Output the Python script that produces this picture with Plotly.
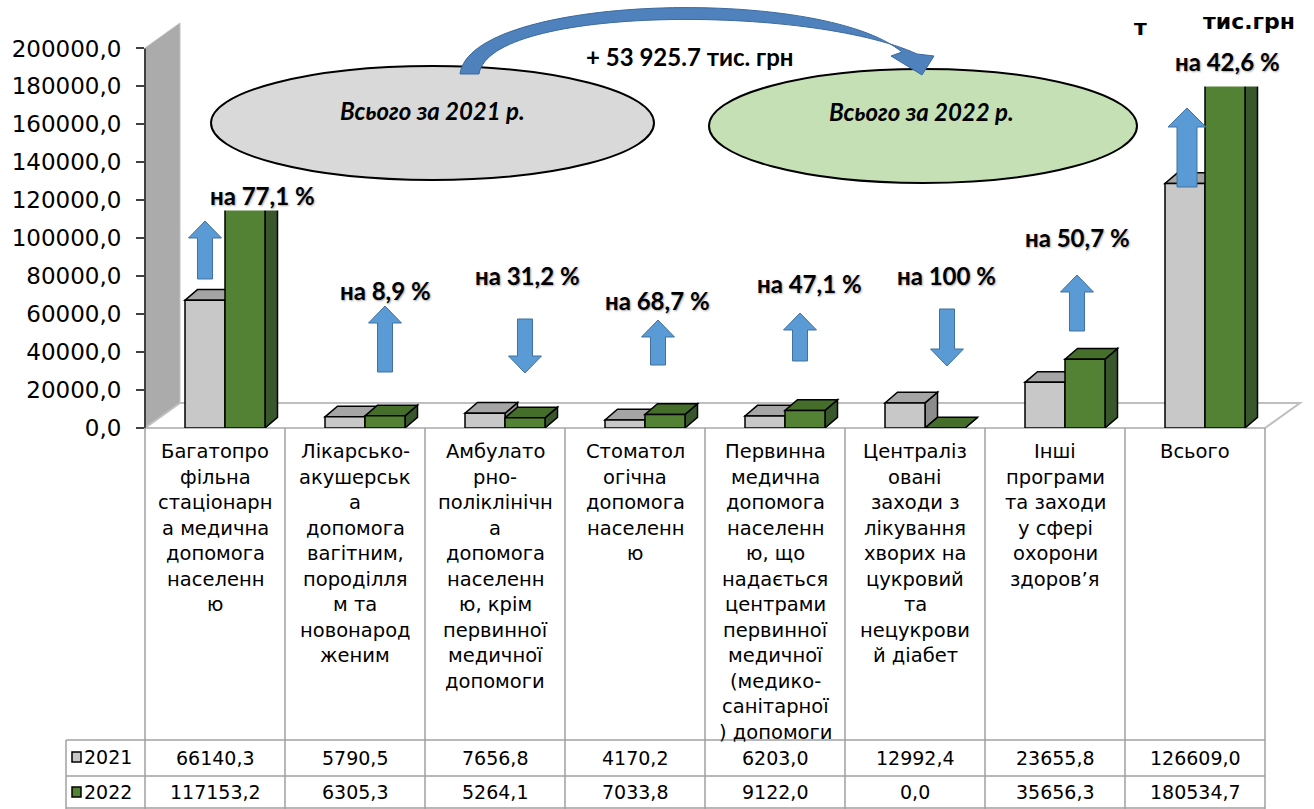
import plotly.graph_objects as go

# ---- data -------------------------------------------------------------
categories = [
    "Багатопро\nфільна\nстаціонарн\nа медична\nдопомога\nнаселенн\nю",
    "Лікарсько-\nакушерськ\nа\nдопомога\nвагітним,\nпороділля\nм та\nновонарод\nженим",
    "Амбулато\nрно-\nполіклінічн\nа\nдопомога\nнаселенн\nю, крім\nпервинної\nмедичної\nдопомоги",
    "Стоматол\nогічна\nдопомога\nнаселенн\nю",
    "Первинна\nмедична\nдопомога\nнаселенн\nю, що\nнадається\nцентрами\nпервинної\nмедичної\n(медико-\nсанітарної\n) допомоги",
    "Централіз\nовані\nзаходи з\nлікування\nхворих на\nцукровий\nта\nнецукрови\nй діабет",
    "Інші\nпрограми\nта заходи\nу сфері\nохорони\nздоров’я",
    "Всього",
]
years = ["2021", "2022"]
values_2021 = [66140.3, 5790.5, 7656.8, 4170.2, 6203.0, 12992.4, 23655.8, 126609.0]
values_2022 = [117153.2, 6305.3, 5264.1, 7033.8, 9122.0, 0.0, 35656.3, 180534.7]
change_labels = ["на 77,1 %", "на 8,9 %", "на 31,2 %", "на 68,7 %",
                 "на 47,1 %", "на 100 %", "на 50,7 %", "на 42,6 %"]
total_label_2021 = "Всього за 2021 р."
total_label_2022 = "Всього за 2022 р."
total_change = "+ 53 925.7 тис. грн"
unit_label = "тис.грн"
y_ticks = list(range(0, 200001, 20000))

# ---- geometry ---------------------------------------------------------
W, H = 1314, 809
L, R, T, B = 145, 14, 20, 381
X_MIN, X_MAX = -0.5, 7.75
Y_MAX = 215000
PLOT_W = W - L - R
PLOT_H = H - T - B
CAT_PX = PLOT_W / (X_MAX - X_MIN)
BASE_LIFT = 7  # bars stand a little behind the floor's front edge


def fx(px):
    return (px - L) / PLOT_W


def fy(py):
    return (H - B - py) / PLOT_H


def cat_px(xv):
    return L + (xv - X_MIN) * CAT_PX


def to_path(pts, close=True):
    s = "M " + " L ".join(f"{a:.5f},{b:.5f}" for a, b in pts)
    return s + (" Z" if close else "")


def fmt(v):
    return f"{v:.1f}".replace(".", ",")


GRAY, GRAY_TOP, GRAY_SIDE = "#C8C8C8", "#A5A5A5", "#8C8C8C"
GREEN, GREEN_TOP, GREEN_SIDE = "#548235", "#456E2B", "#38572A"
BLUE, BLUE_EDGE = "#5B9BD5", "#41719C"

bar_w = 40 / CAT_PX
off_2021 = -30 / CAT_PX
off_2022 = 10 / CAT_PX
DX = 12.5 / CAT_PX
DY = 10.5 * Y_MAX / PLOT_H

xs = list(range(len(categories)))

fig = go.Figure()
fig.add_trace(go.Bar(
    x=xs, y=values_2021, name=years[0], offset=off_2021, width=bar_w,
    marker=dict(color=GRAY, line=dict(color="black", width=1.5)),
    yaxis="y2", showlegend=False, hoverinfo="skip",
))
fig.add_trace(go.Bar(
    x=xs, y=values_2022, name=years[1], offset=off_2022, width=bar_w,
    marker=dict(color=GREEN, line=dict(color="black", width=1.5)),
    yaxis="y2", showlegend=False, hoverinfo="skip",
))

shapes = []
# back wall and floor
wall = [(145, 428), (145, 48), (180, 23), (180, 403)]
shapes.append(dict(type="path", xref="paper", yref="paper", layer="below",
                   path=to_path([(fx(a), fy(b)) for a, b in wall]),
                   fillcolor="#ABABAB", line=dict(color="#BFBFBF", width=1)))
floor = [(145, 428), (cat_px(7.5), 428), (cat_px(7.5) + 35, 403), (180, 403)]
shapes.append(dict(type="path", xref="paper", yref="paper", layer="below",
                   path=to_path([(fx(a), fy(b)) for a, b in floor]),
                   fillcolor="white", line=dict(color="#BFBFBF", width=2)))

# 3D top and side faces of the bars
for i in xs:
    for vals, off, top_c, side_c in ((values_2021, off_2021, GRAY_TOP, GRAY_SIDE),
                                     (values_2022, off_2022, GREEN_TOP, GREEN_SIDE)):
        h = vals[i]
        x0, x1 = i + off, i + off + bar_w
        side = [(x1, 0), (x1, h), (x1 + DX, h + DY), (x1 + DX, DY)]
        top = [(x0, h), (x1, h), (x1 + DX, h + DY), (x0 + DX, h + DY)]
        for pts, col in ((side, side_c), (top, top_c)):
            shapes.append(dict(type="path", xref="x", yref="y2", layer="below",
                               path=to_path(pts), fillcolor=col,
                               line=dict(color="black", width=1.5)))

# value axis line
shapes.append(dict(type="line", xref="paper", yref="y", x0=0, x1=0,
                   y0=0, y1=y_ticks[-1], line=dict(color="#404040", width=2)))

# data table grid
TABLE_LINE = dict(color="#A0A0A0", width=1.5)
for k in range(len(categories) + 1):
    xp = fx(cat_px(k - 0.5))
    shapes.append(dict(type="line", xref="paper", yref="paper",
                       x0=xp, x1=xp, y0=fy(428), y1=fy(809), line=TABLE_LINE))
for yy in (740, 776, 808):
    shapes.append(dict(type="line", xref="paper", yref="paper",
                       x0=fx(66), x1=fx(cat_px(7.5)), y0=fy(yy), y1=fy(yy),
                       line=TABLE_LINE))
shapes.append(dict(type="line", xref="paper", yref="paper",
                   x0=fx(66), x1=fx(66), y0=fy(740), y1=fy(809), line=TABLE_LINE))

# legend keys inside the table
for yy, col in ((757, GRAY), (792, GREEN)):
    shapes.append(dict(type="rect", xref="paper", yref="paper",
                       x0=fx(72), x1=fx(81), y0=fy(yy - 5), y1=fy(yy + 5),
                       fillcolor=col, line=dict(color="black", width=1.5)))

# total ellipses
shapes.append(dict(type="circle", xref="paper", yref="paper",
                   x0=fx(211), x1=fx(654), y0=fy(180), y1=fy(66),
                   fillcolor="#D9D9D9", line=dict(color="black", width=2)))
shapes.append(dict(type="circle", xref="paper", yref="paper",
                   x0=fx(709), x1=fx(1137), y0=fy(183), y1=fy(69),
                   fillcolor="#C5E0B4", line=dict(color="black", width=2)))


# curved arrow between the two totals
def P(a, b):
    return f"{fx(a):.5f},{fy(b):.5f}"


curve = (f"M {P(460, 74)} C {P(470, -5)} {P(820, -15)} {P(902, 52)} "
         f"L {P(891, 56)} L {P(922, 75)} L {P(934, 56)} L {P(917, 54)} "
         f"C {P(810, 5)} {P(490, 5)} {P(479, 74)} Z")
shapes.append(dict(type="path", xref="paper", yref="paper", path=curve,
                   fillcolor="#4F81BD", line=dict(color="#3A6A9E", width=1)))

# block arrows showing direction of change
arrow_cx = [205, 385, 525, 658, 800, 947, 1077, 1187]
arrow_top = [221, 306, 319, 320, 313, 309, 275, 108]
arrow_bottom = [279, 372, 373, 365, 361, 366, 331, 187]
for i in xs:
    up = values_2022[i] >= values_2021[i]
    shaft, head, hl = (20, 38, 19) if i == 7 else (15, 33, 17)
    cx = arrow_cx[i]
    tail, tip = (arrow_bottom[i], arrow_top[i]) if up else (arrow_top[i], arrow_bottom[i])
    yb = tip + hl if up else tip - hl
    pts = [(cx - shaft / 2, tail), (cx - shaft / 2, yb), (cx - head / 2, yb), (cx, tip),
           (cx + head / 2, yb), (cx + shaft / 2, yb), (cx + shaft / 2, tail)]
    shapes.append(dict(type="path", xref="paper", yref="paper",
                       path=to_path([(fx(a), fy(b)) for a, b in pts]),
                       fillcolor=BLUE, line=dict(color=BLUE_EDGE, width=1)))

annotations = []


def note(x, y, text, font, xref="paper", **kw):
    d = dict(xref=xref, yref="paper", x=x, y=y, text=text, showarrow=False,
             font=font, xanchor="center", yanchor="middle")
    d.update(kw)
    annotations.append(d)


LABEL_FONT = dict(family="Lato", size=24, color="black", weight="bold",
                  shadow="1px 1px 2px rgba(0,0,0,0.35)")
label_pos = [(262, 195), (385, 290), (527, 275), (657, 300),
             (809, 283), (946, 275), (1077, 237), (1227, 61)]
for i, (px, py) in enumerate(label_pos):
    extra = dict(height=50) if i == 7 else {}
    note(fx(px), fy(py), change_labels[i], LABEL_FONT, bgcolor="white",
         borderpad=0, **extra)

ELL_FONT = dict(family="Lato", size=24, color="black", weight="bold", style="italic")
note(fx(432), fy(110), total_label_2021, ELL_FONT)
note(fx(921), fy(112), total_label_2022, ELL_FONT)
note(fx(689), fy(56), total_change,
     dict(family="Lato", size=24, color="black", weight="bold"))
UNIT_FONT = dict(family="DejaVu Sans", size=22, color="black", weight="bold")
note(fx(1140), fy(27), unit_label[0], UNIT_FONT)
note(fx(1249), fy(22), unit_label, UNIT_FONT)

# table text
TABLE_FONT = dict(family="DejaVu Sans", size=19.5, color="black")
VALUE_FONT = dict(family="DejaVu Sans", size=19, color="black")
for i, lab in enumerate(categories):
    for j, line in enumerate(lab.split("\n")):
        note(i, fy(451.5 + j * 25.5), line, TABLE_FONT, xref="x")
    for yy, vals in ((758, values_2021), (792, values_2022)):
        note(i, fy(yy), fmt(vals[i]), VALUE_FONT, xref="x")
for yy, yr in zip((757, 792), years):
    note(fx(82), fy(yy), yr, VALUE_FONT, xanchor="left")

fig.update_layout(
    width=W, height=H,
    margin=dict(l=L, r=R, t=T, b=B, pad=0),
    paper_bgcolor="white", plot_bgcolor="white",
    showlegend=False,
    xaxis=dict(range=[X_MIN, X_MAX], showticklabels=False, showgrid=False,
               zeroline=False, showline=False, ticks=""),
    yaxis=dict(range=[0, Y_MAX], tickvals=y_ticks, ticktext=[fmt(v) for v in y_ticks],
               ticks="outside", ticklen=8, tickwidth=1.5, tickcolor="#404040",
               showgrid=False, zeroline=False, showline=False, ticklabelstandoff=10,
               tickfont=dict(family="DejaVu Sans", size=23, color="black")),
    yaxis2=dict(overlaying="y", domain=[BASE_LIFT / PLOT_H, 1],
                range=[0, Y_MAX * (PLOT_H - BASE_LIFT) / PLOT_H], visible=False),
    shapes=shapes,
    annotations=annotations,
)

fig.write_html("out.html", config={"displayModeBar": False},
               post_script="document.body.style.margin='0';")
